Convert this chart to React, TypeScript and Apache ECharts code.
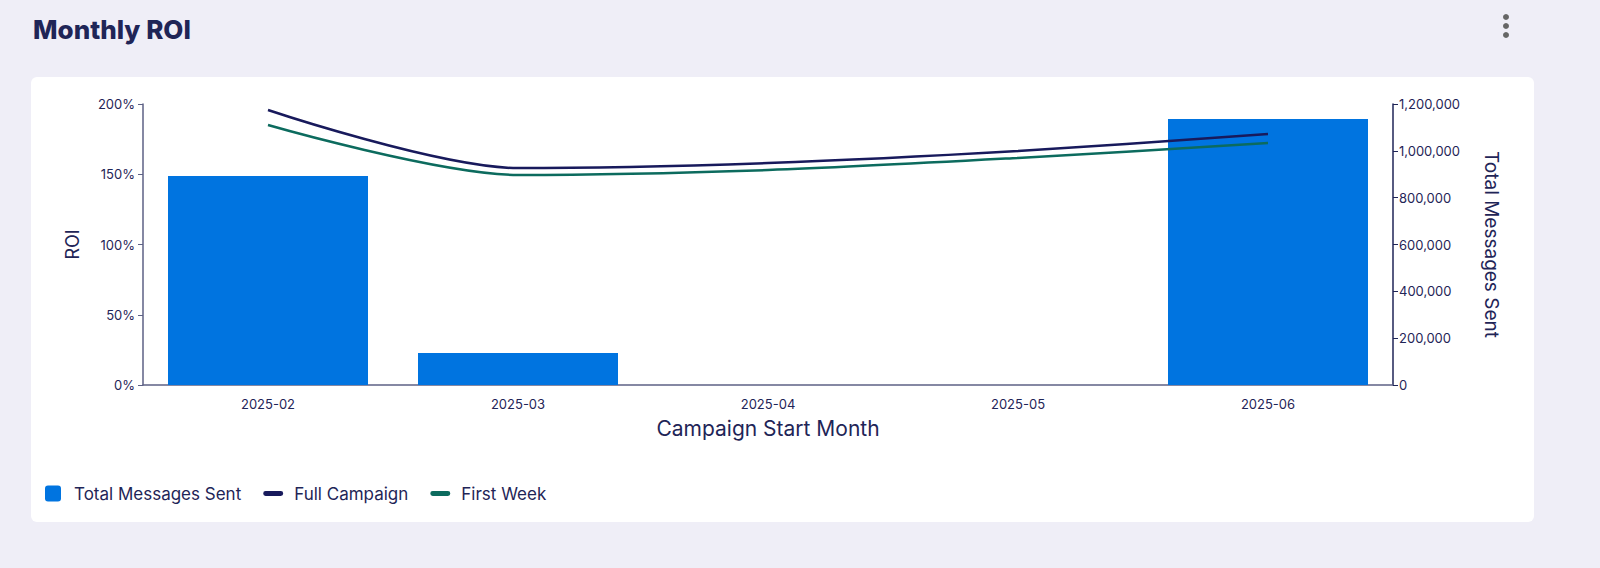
import React, { useEffect, useRef } from "react";
import * as echarts from "echarts";

const categories = ["2025-02", "2025-03", "2025-04", "2025-05", "2025-06"];
const totalMessages: (number | null)[] = [893000, 137000, null, null, 1136000];
const fullCampaign = [195.7, 154.4, 158.0, 166.5, 178.6];
const firstWeek = [185.0, 149.5, 153.0, 161.6, 172.2];
const roiTicks = { min: 0, max: 200, interval: 50 };
const msgTicks = { min: 0, max: 1200000, interval: 200000 };

const FONT = "Inter, 'Noto Sans', sans-serif";
const TEXT = "#1f2557";

export default function App() {
  const ref = useRef<HTMLDivElement>(null);
  useEffect(() => {
    document.body.style.margin = "0";
    const chart = echarts.init(ref.current!, null, { renderer: "svg" });
    chart.setOption({
      animation: false,
      backgroundColor: "#efeef7",
      textStyle: { fontFamily: FONT },
      title: {
        text: "Monthly ROI",
        left: 28,
        top: 11,
        textStyle: { fontFamily: FONT, fontSize: 26, fontWeight: 800, color: TEXT },
      },
      graphic: [
        {
          type: "rect",
          z: -10,
          shape: { x: 31, y: 77, width: 1503, height: 445, r: 6 },
          style: { fill: "#ffffff" },
        },
        { type: "circle", shape: { cx: 1506, cy: 17, r: 3 }, style: { fill: "#666666" } },
        { type: "circle", shape: { cx: 1506, cy: 26, r: 3 }, style: { fill: "#666666" } },
        { type: "circle", shape: { cx: 1506, cy: 35, r: 3 }, style: { fill: "#666666" } },
      ],
      legend: {
        left: 40,
        top: 480,
        itemWidth: 20,
        itemHeight: 16,
        itemGap: 22,
        textStyle: { fontFamily: FONT, fontSize: 17, color: TEXT, padding: [0, 0, 0, 6] },
        data: [
          {
            name: "Total Messages Sent",
            icon: "path://M3,0 h10 a3,3 0 0 1 3,3 v10 a3,3 0 0 1 -3,3 h-10 a3,3 0 0 1 -3,-3 v-10 a3,3 0 0 1 3,-3 z",
          },
          { name: "Full Campaign", icon: "path://M2,0 h16 a2,2 0 0 1 0,5 h-16 a2,2 0 0 1 0,-5 z" },
          { name: "First Week", icon: "path://M2,0 h16 a2,2 0 0 1 0,5 h-16 a2,2 0 0 1 0,-5 z" },
        ],
      },
      grid: { left: 143, right: 207, top: 104, bottom: 183, containLabel: false },
      xAxis: {
        type: "category",
        data: categories,
        name: "Campaign Start Month",
        nameLocation: "middle",
        nameGap: 33,
        nameTextStyle: { fontFamily: FONT, fontSize: 21, color: TEXT },
        axisLine: { lineStyle: { color: "#5d6185", width: 1.5 } },
        axisTick: { alignWithLabel: true, length: 6, lineStyle: { color: "#5d6185" } },
        axisLabel: { fontFamily: FONT, fontSize: 13, color: TEXT, margin: 12 },
      },
      yAxis: [
        {
          type: "value",
          position: "left",
          min: roiTicks.min,
          max: roiTicks.max,
          interval: roiTicks.interval,
          name: "ROI",
          nameLocation: "middle",
          nameGap: 62,
          nameTextStyle: { fontFamily: FONT, fontSize: 18, color: TEXT },
          axisLine: { show: true, lineStyle: { color: "#5d6185", width: 1.5 } },
          axisTick: { show: true, length: 5, lineStyle: { color: "#5d6185" } },
          axisLabel: { fontFamily: FONT, fontSize: 13, color: TEXT, margin: 8, formatter: "{value}%" },
          splitLine: { show: false },
        },
        {
          type: "value",
          position: "right",
          min: msgTicks.min,
          max: msgTicks.max,
          interval: msgTicks.interval,
          name: "Total Messages Sent",
          nameLocation: "middle",
          nameRotate: -90,
          nameGap: 89,
          nameTextStyle: { fontFamily: FONT, fontSize: 19, color: TEXT },
          axisLine: { show: true, lineStyle: { color: "#1f2557", width: 1.5 } },
          axisTick: { show: true, length: 5, lineStyle: { color: "#1f2557" } },
          axisLabel: {
            fontFamily: FONT,
            fontSize: 13,
            color: TEXT,
            margin: 6,
            formatter: (v: number) => v.toLocaleString("en-US"),
          },
          splitLine: { show: false },
        },
      ],
      series: [
        {
          name: "Total Messages Sent",
          type: "bar",
          yAxisIndex: 1,
          barWidth: "80%",
          data: totalMessages,
          itemStyle: { color: "#0074e0" },
          z: 1,
        },
        {
          name: "Full Campaign",
          type: "line",
          yAxisIndex: 0,
          data: fullCampaign,
          smooth: 0.3,
          showSymbol: false,
          symbol: "none",
          lineStyle: { color: "#181a5c", width: 2.5 },
          itemStyle: { color: "#181a5c" },
          z: 3,
        },
        {
          name: "First Week",
          type: "line",
          yAxisIndex: 0,
          data: firstWeek,
          smooth: 0.3,
          showSymbol: false,
          symbol: "none",
          lineStyle: { color: "#0c6b5e", width: 2.5 },
          itemStyle: { color: "#0c6b5e" },
          z: 2,
        },
      ],
    });
    return () => chart.dispose();
  }, []);
  return (
    <div
      ref={ref}
      style={{ position: "absolute", left: 0, top: 0, width: 1600, height: 568 }}
    />
  );
}
